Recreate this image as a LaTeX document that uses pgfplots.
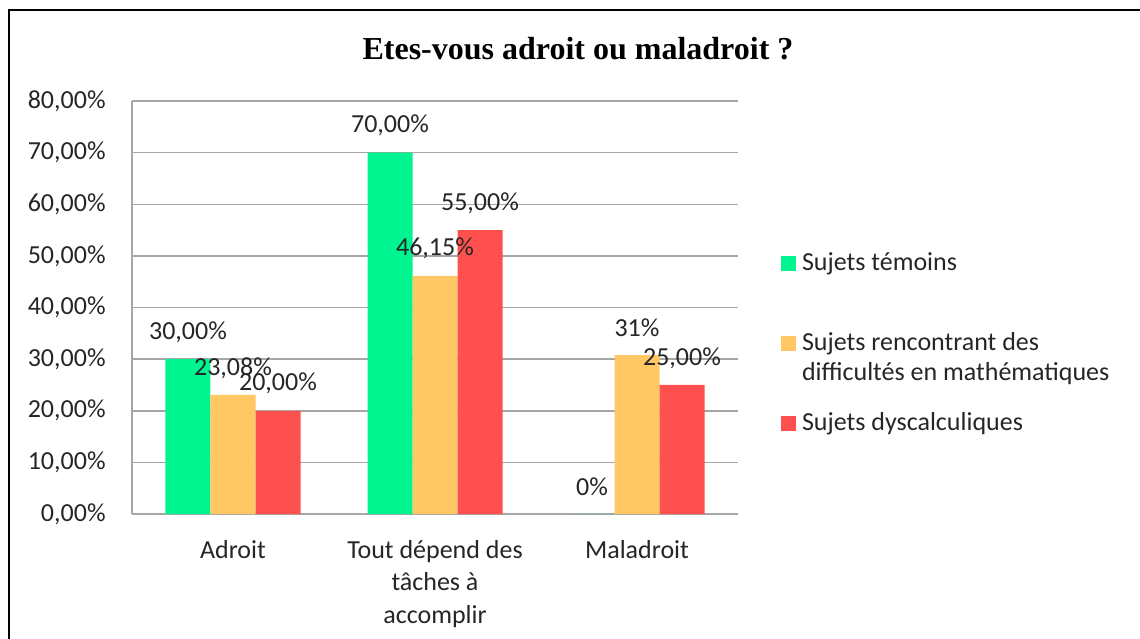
\documentclass[border=0pt]{standalone}
\usepackage{pgfplots}
\pgfplotsset{compat=1.18}
\usepackage{fontspec}
\setmainfont{Carlito}
\newfontfamily\titlefont{Liberation Serif}
\definecolor{cgreen}{RGB}{0,245,145}
\definecolor{corange}{RGB}{255,200,100}
\definecolor{cred}{RGB}{255,80,80}
\definecolor{cgrid}{RGB}{166,166,166}
\definecolor{ctext}{RGB}{38,38,38}
\begin{document}
\begin{tikzpicture}
\useasboundingbox (0,0) rectangle (570pt,319pt);
\fill[white] (0,0) rectangle (570pt,319pt);
\draw[black, line width=1.25pt] (4.5pt,-2pt) -- (4.5pt,314pt) -- (572pt,314pt);
\node[anchor=base, inner sep=0pt, font=\titlefont\bfseries\fontsize{16}{19}\selectfont] at (289pt,289pt) {Etes-vous adroit ou maladroit ?};
\begin{axis}[
  at={(66pt,62pt)}, anchor=south west,
  scale only axis, width=303pt, height=206.5pt,
  ybar=0pt, bar width=22.5pt,
  xmin=-0.5, xmax=2.5, ymin=0, ymax=80,
  enlargelimits=false, clip=false,
  axis x line*=bottom, axis y line*=left,
  axis line style={-, draw=cgrid, line width=0.75pt},
  ymajorgrids, grid style={draw=cgrid, line width=0.75pt},
  major tick length=0pt,
  xtick={0,1,2},
  xticklabels={Adroit,{Tout dépend des\\tâches à\\accomplir},Maladroit},
  xticklabel style={align=center, anchor=north, inner sep=0pt, yshift=-13pt, font=\fontsize{13}{16.25}\selectfont, text=ctext},
  ytick={0,10,20,30,40,50,60,70,80},
  yticklabels={{0,00\%},{10,00\%},{20,00\%},{30,00\%},{40,00\%},{50,00\%},{60,00\%},{70,00\%},{80,00\%}},
  yticklabel style={anchor=east, inner sep=0pt, xshift=-13pt, font=\fontsize{13}{15}\selectfont, text=ctext},
  nodes near coords, point meta=explicit symbolic,
  every node near coord/.append style={anchor=center, yshift=13.5pt, inner sep=0pt, font=\fontsize{13}{15}\selectfont, text=ctext},
  legend image code/.code={\fill[#1] (0pt,-0.5pt) rectangle (7.5pt,7pt);},
  legend style={at={(1.071,0.6416)}, anchor=north west, draw=none, fill=none, inner sep=0pt, outer sep=0pt, row sep=10pt, column sep=3pt, cells={anchor=base west}, nodes={inner sep=0pt, text height=10.5pt, text depth=19.5pt, font=\fontsize{13}{15}\selectfont, text=ctext}},
]
\addplot[fill=cgreen, draw=none] coordinates {(0,30) [30,00\%] (1,70) [70,00\%] (2,0) [0\%]};
\addlegendentry{Sujets témoins}
\addplot[fill=corange, draw=none] coordinates {(0,23.08) [23,08\%] (1,46.15) [46,15\%] (2,30.77) [31\%]};
\addlegendentry{\begin{tabular}[t]{@{}l@{}}Sujets rencontrant des\\ difficultés en mathématiques\end{tabular}}
\addplot[fill=cred, draw=none] coordinates {(0,20) [20,00\%] (1,55) [55,00\%] (2,25) [25,00\%]};
\addlegendentry{Sujets dyscalculiques}
\end{axis}
\end{tikzpicture}
\end{document}
